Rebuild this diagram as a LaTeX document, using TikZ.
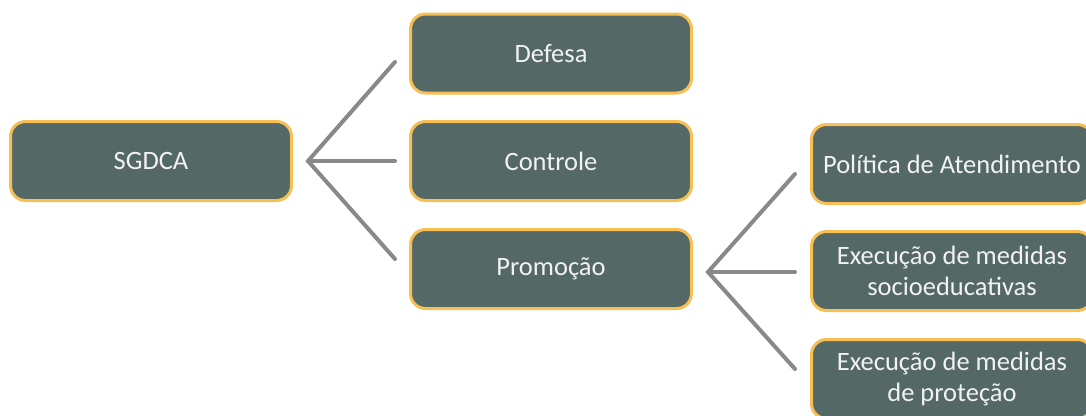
\documentclass[tikz,border=0pt]{standalone}
\usepackage{fontspec}
\setmainfont{Carlito}
\usepackage{tikz}
\usetikzlibrary{calc,positioning}
\definecolor{boxfill}{HTML}{546866}
\definecolor{boxline}{HTML}{F8BF55}
\definecolor{linkgray}{HTML}{898989}
\tikzset{
    box/.style={draw=boxline, fill=boxfill, line width=3, rounded corners=15,
        minimum width=281, minimum height=79, align=center, text=white!95!black,
        font=\fontsize{26.5}{31}\selectfont, inner sep=0},
    link/.style={draw=linkgray, line width=4, line cap=round, line join=miter}
}

\begin{document}
\begin{tikzpicture}[x=1pt, y=-1pt]
    \useasboundingbox (0, 0) rectangle (1086, 415);
    \clip (0, 0) rectangle (1086, 415);
    % first level
    \node[box] (sgdca) at (151, 161) {SGDCA};
    \node[box] (defesa) at (551, 53.5) {Defesa};
    \node[box] (controle) at (551, 161) {Controle};
    \node[box] (promocao) at (551, 269) {Promoção};
    % second level
    \node[box] (politica) at (952, 164) {Política de Atendimento};
    \node[box] (socio) at (952, 271) {Execução de medidas\\socioeducativas};
    \node[box] (protecao) at (952, 379) {Execução de medidas\\de proteção};
    % forks
    \coordinate (f1) at ($(sgdca.east)+(15, 0)$);
    \coordinate (a1) at ($(defesa.west)+(-14, 8.5)$);
    \coordinate (b1) at ($(controle.west)+(-14, 0)$);
    \coordinate (c1) at ($(promocao.west)+(-14, -10)$);
    \coordinate (f2) at ($(promocao.east)+(15, 3)$);
    \coordinate (a2) at ($(politica.west)+(-15, 10)$);
    \coordinate (b2) at ($(socio.west)+(-15, 1)$);
    \coordinate (c2) at ($(protecao.west)+(-15, -10)$);
    \draw[link] (a1) -- (f1) -- (c1);
    \draw[link] (f1) -- (b1);
    \draw[link] (a2) -- (f2) -- (c2);
    \draw[link] (f2) -- (b2);
\end{tikzpicture}
\end{document}
